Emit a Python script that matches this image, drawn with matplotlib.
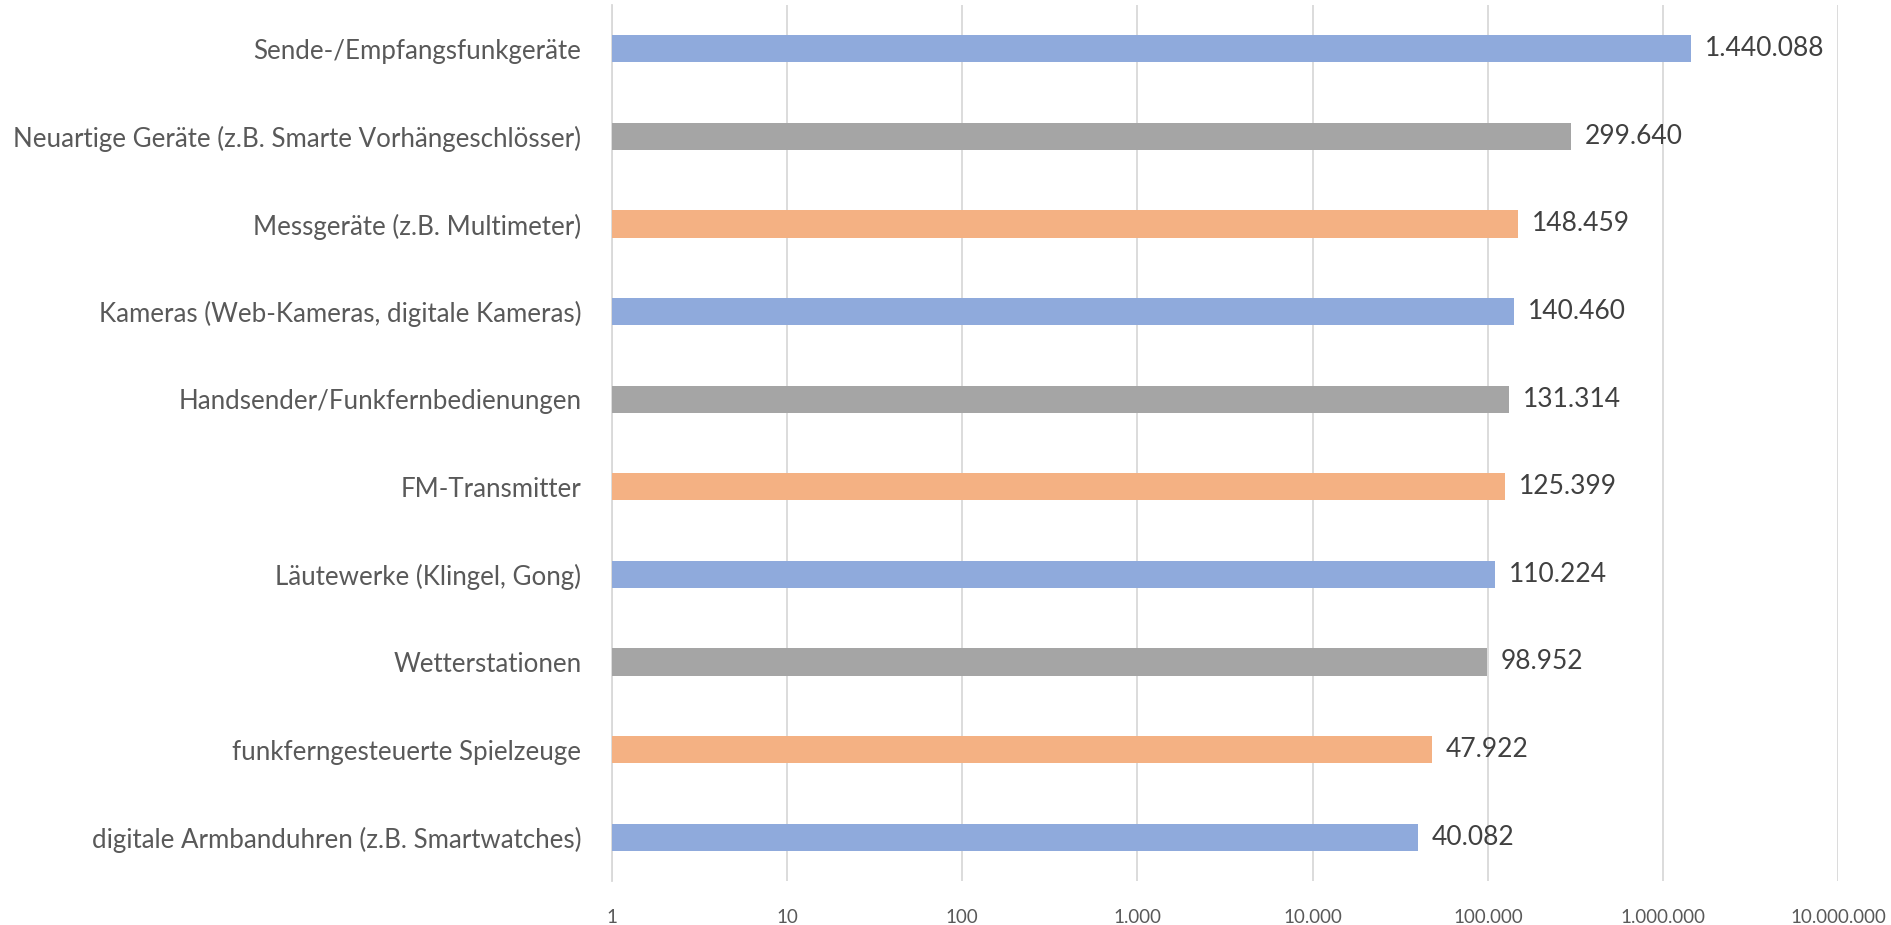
import numpy as np
import matplotlib
matplotlib.use("Agg")
import matplotlib.pyplot as plt
from matplotlib.ticker import FixedLocator, FuncFormatter

plt.rcParams['font.family'] = ['Lato', 'DejaVu Sans']

# data, top to bottom as in the chart
categories = [
    "Sende-/Empfangsfunkgeräte",
    "Neuartige Geräte (z.B. Smarte Vorhängeschlösser)",
    "Messgeräte (z.B. Multimeter)",
    "Kameras (Web-Kameras, digitale Kameras)",
    "Handsender/Funkfernbedienungen",
    "FM-Transmitter",
    "Läutewerke (Klingel, Gong)",
    "Wetterstationen",
    "funkferngesteuerte Spielzeuge",
    "digitale Armbanduhren (z.B. Smartwatches)",
]
values = [1440088, 299640, 148459, 140460, 131314, 125399, 110224, 98952, 47922, 40082]
palette = ["#8FAADC", "#A5A5A5", "#F4B183"]
ticks = [1, 10, 100, 1000, 10000, 100000, 1000000, 10000000]


def de_fmt(v):
    return f"{int(round(v)):,}".replace(",", ".")


fig = plt.figure(figsize=(18.91, 9.25), dpi=100)
ax = fig.add_axes([0.3236, 0.0476, 0.6485, 0.947])

y = np.arange(len(categories))
colors = [palette[i % 3] for i in range(len(categories))]
ax.barh(y, values, height=0.31, color=colors, left=0, zorder=3)

ax.set_xscale("log")
ax.set_xlim(1, 10000000)
ax.set_ylim(len(categories) - 0.5, -0.5)
ax.xaxis.set_major_locator(FixedLocator(ticks))
ax.xaxis.set_minor_locator(FixedLocator([]))
ax.xaxis.set_major_formatter(FuncFormatter(lambda v, p: de_fmt(v)))
ax.grid(axis="x", color="#D9D9D9", linewidth=1.3, zorder=0)

ax.set_yticks(y)
ax.set_yticklabels(categories, fontsize=18.6, color="#595959")
ax.tick_params(axis="y", length=0, pad=22)
ax.tick_params(axis="x", length=0, pad=20, labelsize=13.5, labelcolor="#595959")

for s in ["top", "right", "bottom"]:
    ax.spines[s].set_visible(False)
ax.spines["left"].set_color("#D9D9D9")
ax.spines["left"].set_linewidth(1.3)

for yi, v in zip(y, values):
    ax.annotate(de_fmt(v), (v, yi), xytext=(10, 0), textcoords="offset points",
                va="center", ha="left", fontsize=19, color="#404040")

fig.savefig("out.png", dpi=100)
